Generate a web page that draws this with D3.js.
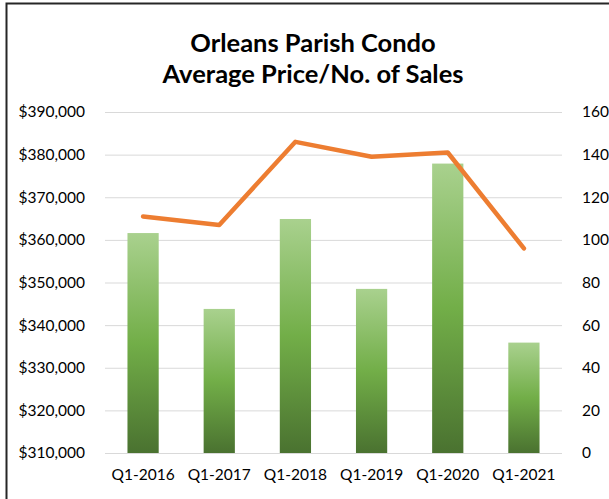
<!DOCTYPE html>
<head>
  <meta charset="utf-8">
  <script src="https://d3js.org/d3.v7.min.js"></script>
  <style>
    body { margin: 0; background: #fff; }
    text { font-family: Lato, "Open Sans", sans-serif; fill: #000; }
  </style>
</head>
<body>

<div id="my_dataviz"></div>

<script>

  // data
  var quarters = ["Q1-2016", "Q1-2017", "Q1-2018", "Q1-2019", "Q1-2020", "Q1-2021"];
  var avgPrice = [361600, 343800, 364900, 348500, 377900, 335900];
  var numSales = [111, 107, 146, 139, 141, 96];
  var priceTicks = [310000, 320000, 330000, 340000, 350000, 360000, 370000, 380000, 390000];
  var salesTicks = [0, 20, 40, 60, 80, 100, 120, 140, 160];
  var titleLines = ["Orleans Parish Condo", "Average Price/No. of Sales"];

  var W = 609, H = 499;
  var margin = {top: 112, right: 47, bottom: 46, left: 105},
    width = W - margin.left - margin.right,
    height = H - margin.top - margin.bottom;

  var root = d3.select("#my_dataviz")
    .append("svg")
      .attr("width", W)
      .attr("height", H);

  // chart frame (only left and top edges show in the crop)
  root.append("path")
    .attr("d", "M6.5," + H + "V3.5H" + W)
    .attr("fill", "none")
    .attr("stroke", "#262626")
    .attr("stroke-width", 2);

  // title
  root.append("g").selectAll("text")
    .data(titleLines)
    .enter()
    .append("text")
      .attr("x", 313)
      .attr("y", function(d, i) { return 52 + i * 31; })
      .attr("text-anchor", "middle")
      .style("font-weight", "bold")
      .style("font-size", "25.5px")
      .text(function(d) { return d; });

  var svg = root.append("g")
    .attr("transform", "translate(" + margin.left + "," + margin.top + ")");

  // bar gradient
  var grad = root.append("defs").append("linearGradient")
    .attr("id", "barGrad")
    .attr("x1", 0).attr("y1", 0).attr("x2", 0).attr("y2", 1);
  grad.append("stop").attr("offset", "0%").attr("stop-color", "#a9d18e");
  grad.append("stop").attr("offset", "50%").attr("stop-color", "#72ae48");
  grad.append("stop").attr("offset", "100%").attr("stop-color", "#4a7230");

  // scales
  var x = d3.scaleBand()
    .range([0, width])
    .domain(quarters)
    .paddingInner(0.59)
    .paddingOuter(0.295);

  var yL = d3.scaleLinear()
    .domain([310000, 390000])
    .range([height, 0]);

  var yR = d3.scaleLinear()
    .domain([0, 160])
    .range([height, 0]);

  // gridlines
  svg.append("g")
    .call(d3.axisLeft(yL).tickValues(priceTicks).tickSize(-width).tickFormat(""))
    .call(function(g) { g.select(".domain").remove(); })
    .selectAll(".tick line")
      .attr("stroke", "#d9d9d9")
      .attr("stroke-width", 1);

  // left axis labels
  var fmt = d3.format("$,.0f");
  svg.append("g")
    .attr("transform", "translate(-17,0)")
    .call(d3.axisLeft(yL).tickValues(priceTicks).tickSize(0).tickFormat(fmt))
    .call(function(g) { g.select(".domain").remove(); })
    .selectAll("text")
      .style("font-size", "15.5px")
      .style("font-family", "Lato, sans-serif")
      .attr("fill", "#000");

  // right axis labels
  svg.append("g")
    .attr("transform", "translate(" + (width + 17) + ",0)")
    .call(d3.axisRight(yR).tickValues(salesTicks).tickSize(0))
    .call(function(g) { g.select(".domain").remove(); })
    .selectAll("text")
      .style("font-size", "15.5px")
      .style("font-family", "Lato, sans-serif")
      .attr("fill", "#000");

  // bottom axis labels
  svg.append("g")
    .attr("transform", "translate(0," + height + ")")
    .call(d3.axisBottom(x).tickSize(0).tickPadding(16))
    .call(function(g) { g.select(".domain").remove(); })
    .selectAll("text")
      .style("font-size", "15.5px")
      .style("font-family", "Lato, sans-serif")
      .attr("fill", "#000");

  // bars
  svg.selectAll(".bar")
    .data(quarters)
    .enter()
    .append("rect")
      .attr("class", "bar")
      .attr("x", function(d) { return x(d); })
      .attr("y", function(d, i) { return yL(avgPrice[i]); })
      .attr("width", x.bandwidth())
      .attr("height", function(d, i) { return height - yL(avgPrice[i]); })
      .style("fill", "url(#barGrad)");

  // line
  var line = d3.line()
    .x(function(d, i) { return x(quarters[i]) + x.bandwidth() / 2; })
    .y(function(d) { return yR(d); });

  svg.append("path")
    .datum(numSales)
    .attr("d", line)
    .attr("fill", "none")
    .attr("stroke", "#ed7d31")
    .attr("stroke-width", 4.5)
    .attr("stroke-linecap", "round")
    .attr("stroke-linejoin", "round");

</script>

</body>
